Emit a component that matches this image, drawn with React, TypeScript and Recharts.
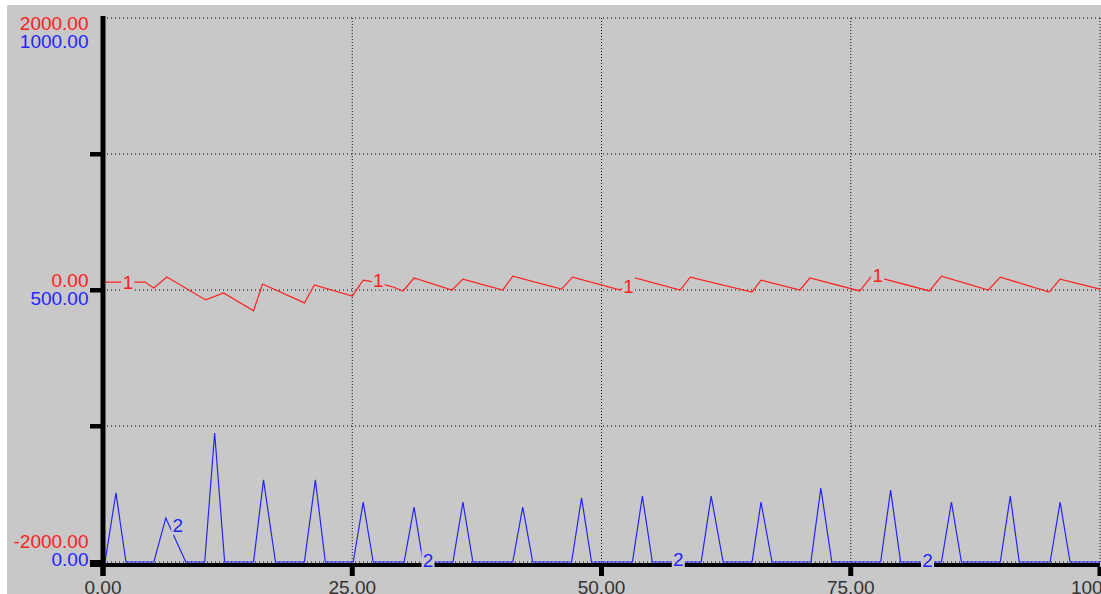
import { LineChart, Line, XAxis, YAxis, CartesianGrid, ReferenceLine, ReferenceDot } from 'recharts';

// series 1 (red, left axis -2000..2000)
const redX = [0, 4.2, 5.1, 6.4, 10.3, 12.1, 15.1, 16.0, 20.2, 21.2, 25.0, 26.1, 27.0, 28.2, 29.1, 30.1, 31.2, 35.0, 36.1, 40.1, 41.1, 46.0, 47.1, 51.9, 53.1, 57.9, 58.9, 65.1, 66.0, 69.9, 70.9, 75.9, 77.1, 78.4, 82.9, 84.1, 88.8, 90.0, 94.9, 96.0, 100];
const redV = [58, 58, 15, 95, -73, -22, -153, 44, -95, 37, -44, 73, 62, 40, 22, -7, 88, 0, 80, 0, 102, 7, 95, 0, 95, 0, 95, -15, 73, 0, 88, -7, 102, 80, -7, 102, 0, 95, -15, 80, 7];

// series 2 (blue, left axis 0..1000)
const blueX = [0, 0.2, 1.3, 2.3, 5.1, 6.3, 8.3, 10.2, 11.2, 12.2, 15.1, 16.1, 17.3, 20.2, 21.3, 22.3, 25.1, 26.1, 27.1, 30.2, 31.2, 32.1, 35.1, 36.1, 37.1, 41.1, 42.1, 43.1, 47.0, 48.0, 49.0, 53.1, 54.1, 55.1, 60.0, 61.0, 62.2, 65.1, 66.0, 67.1, 71.0, 72.0, 73.1, 78.0, 79.0, 80.0, 84.1, 85.1, 86.1, 90.0, 91.0, 91.9, 95.0, 96.0, 97.0, 100];
const blueV = [0, 0, 127, 0, 0, 81, 0, 0, 237, 0, 0, 151, 0, 0, 151, 0, 0, 110, 0, 0, 101, 0, 0, 110, 0, 0, 101, 0, 0, 118, 0, 0, 121, 0, 0, 121, 0, 0, 110, 0, 0, 136, 0, 0, 132, 0, 0, 110, 0, 0, 121, 0, 0, 110, 0, 0];

const xTicks = [0, 25, 50, 75, 100];
const redTicks = [-2000, -1000, 0, 1000, 2000];
const blueTicks = [0, 250, 500, 750, 1000];

// curve tags "1" and "2"
const redTagX = [2.5, 27.6, 52.7, 77.7];
const redTagV = [58, 77, 29, 113];
const blueTagX = [7.5, 32.6, 57.7, 82.7];
const blueTagV = [68, 3, 5, 4];

const redData = redX.map((x, i) => ({ x, v: redV[i] }));
const blueData = blueX.map((x, i) => ({ x, v: blueV[i] }));

const BG = '#c8c8c8';
const RED = '#ff2020';
const BLUE = '#2424ff';
const FONT = '"Liberation Sans", Arial, sans-serif';
const PLOT_LEFT = 96;
const PLOT_TOP = 13;
const PLOT_BOTTOM = 557;

function YTick(props: any) {
  const { y, index, payload } = props;
  const x = PLOT_LEFT;
  const labelled = payload.value % 2000 === 0;
  const top = Math.min(Math.max(y - 16, PLOT_TOP - 1), PLOT_BOTTOM - 27.5);
  return (
    <g>
      {index < redTicks.length - 1 && <rect x={x - 13} y={y - 2} width={13} height={4.5} fill="#000" />}
      {labelled && (
        <text x={x - 14.5} y={top + 13} textAnchor="end" fill={RED} fontSize={19} fontFamily={FONT}>
          {payload.value.toFixed(2)}
        </text>
      )}
      {labelled && (
        <text x={x - 14.5} y={top + 31} textAnchor="end" fill={BLUE} fontSize={19} fontFamily={FONT}>
          {blueTicks[index].toFixed(2)}
        </text>
      )}
    </g>
  );
}

function XTick(props: any) {
  const { x, payload } = props;
  const y = PLOT_BOTTOM;
  return (
    <g>
      <rect x={x - 2.5} y={y + 5} width={5} height={9} fill="#000" />
      <text x={x} y={y + 32} textAnchor="middle" fill="#333" fontSize={19} fontFamily={FONT}>
        {payload.value.toFixed(2)}
      </text>
    </g>
  );
}

function Tag(props: any, text: string, color: string) {
  const { cx, cy } = props;
  return (
    <g>
      <rect x={cx - 6.5} y={cy - 10} width={13} height={20} fill={BG} />
      <text x={cx} y={cy + 7} textAnchor="middle" fill={color} fontSize={19} fontFamily={FONT}>
        {text}
      </text>
    </g>
  );
}

export default function App() {
  return (
    <div style={{ position: 'absolute', left: 7, top: 5, width: 1094, height: 589, background: BG, overflow: 'hidden' }}>
      <LineChart width={1094} height={589} margin={{ top: PLOT_TOP, right: 1, bottom: 0, left: 0 }}>
        <CartesianGrid yAxisId="r" vertical={false} stroke="#000" strokeDasharray="1 3" />
        <CartesianGrid yAxisId="r" horizontal={false} stroke="#111" strokeDasharray="1 2" />
        <XAxis
          dataKey="x"
          type="number"
          domain={[0, 100]}
          ticks={xTicks}
          interval={0}
          height={32}
          axisLine={false}
          tickLine={false}
          tickSize={0}
          tickMargin={0}
          tick={<XTick />}
        />
        <YAxis
          yAxisId="r"
          type="number"
          domain={[-2000, 2000]}
          ticks={redTicks}
          interval={0}
          width={96}
          axisLine={false}
          tickLine={false}
          tickSize={0}
          tickMargin={0}
          tick={<YTick />}
        />
        <YAxis yAxisId="b" type="number" domain={[0, 1000]} hide />
        <ReferenceLine
          yAxisId="b"
          y={0}
          zIndex={450}
          shape={(p: any) => (
            <rect x={Math.min(p.x1, p.x2) - 13} y={p.y1 + 1} width={Math.abs(p.x2 - p.x1) + 13} height={4} fill="#000" />
          )}
        />
        <ReferenceLine
          yAxisId="r"
          x={0}
          zIndex={450}
          shape={(p: any) => (
            <rect
              x={p.x1 - 2.5}
              y={Math.min(p.y1, p.y2) - 2}
              width={5}
              height={Math.abs(p.y2 - p.y1) + 16}
              fill="#000"
            />
          )}
        />
        <Line yAxisId="r" data={redData} dataKey="v" type="linear" stroke={RED} strokeWidth={1.2} dot={false} isAnimationActive={false} />
        <Line yAxisId="b" data={blueData} dataKey="v" type="linear" stroke={BLUE} strokeWidth={1.2} dot={false} isAnimationActive={false} />
        {redTagX.map((x, i) => (
          <ReferenceDot key={'r' + i} yAxisId="r" x={x} y={redTagV[i]} zIndex={3000} shape={(p: any) => Tag(p, '1', RED)} />
        ))}
        {blueTagX.map((x, i) => (
          <ReferenceDot key={'b' + i} yAxisId="b" x={x} y={blueTagV[i]} zIndex={3000} shape={(p: any) => Tag(p, '2', BLUE)} />
        ))}
      </LineChart>
    </div>
  );
}
